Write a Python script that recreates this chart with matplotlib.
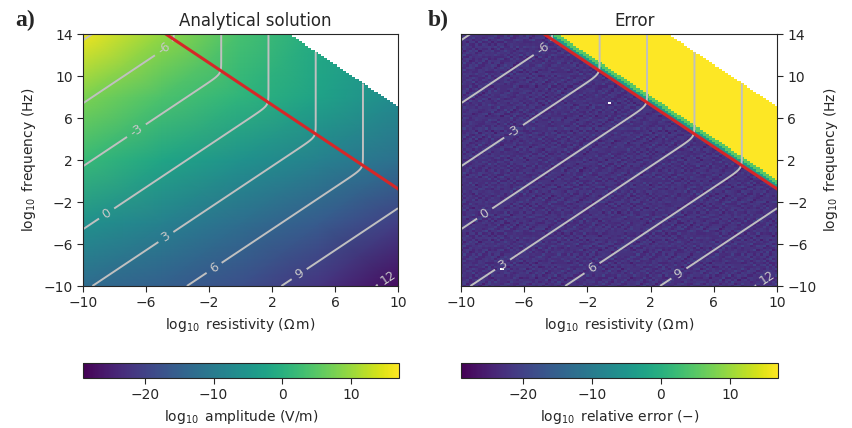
import numpy as np
import matplotlib.pyplot as plt
from matplotlib.colors import ListedColormap

plt.rcParams['text.color'] = '#262626'
plt.rcParams['axes.labelcolor'] = '#262626'
plt.rcParams['xtick.color'] = '#262626'
plt.rcParams['ytick.color'] = '#262626'
plt.rcParams['axes.edgecolor'] = '#262626'

# grid of the maps (log10 values)
res_log = np.linspace(-10, 10, 101)
freq_log = np.linspace(-10, 14, 121)

# coarse amplitude anchors (log10 V/m)
anchor_res = [-10, -5, 0, 5, 10]
anchor_freq = [-10, -4, 2, 8, 14]
anchor_amp = [[-13.0, -15.0, -18.0, -22.0, -27.5],
              [-6.0, -9.0, -12.5, -16.0, -20.5],
              [2.0, -2.0, -5.5, -9.0, -12.0],
              [8.0, 4.0, 1.0, -2.5, -7.0],
              [16.0, 9.5, 3.5, -1.0, -5.0]]

# medium + limits
eps_r = 10.0
cutoff = 17.1          # log f + log rho above which nothing was computed
vmin, vmax = -29, 17

# error levels (log10 relative error)
err_below = -22.5
err_band = [-4.0, 5.0]
band_edges = [0.4, 0.8]
err_above = 20.0
noise_a = [[1, -2, 0, 3, -1, 2, -3, 0, 1, -1, 2],
           [-1, 3, -2, 0, 2, -1, 1, -3, 0, 2, -2],
           [2, 0, 1, -2, -3, 1, 0, 2, -1, 3, 0],
           [-3, 1, 2, -1, 0, 3, -2, 1, 2, -1, 1],
           [0, -1, -3, 2, 1, -2, 3, -1, -2, 0, -3],
           [2, 3, 0, -1, -2, 0, 1, 2, 3, -2, 1],
           [-2, 0, 1, 1, 3, -3, -1, 0, -1, 1, 2]]
noise_b = [[0, 2, -1, 1, -2, 3, 0, -1, 2, -3, 1, 0, -2],
           [-2, 1, 3, -1, 0, -2, 2, 1, -3, 0, 2, -1, 1],
           [1, -3, 0, 2, 1, -1, -2, 3, 0, 1, -1, 2, -2],
           [3, 0, -2, -3, 2, 1, -1, 0, 1, -2, 3, -1, 0],
           [-1, 2, 1, 0, -3, -2, 3, -1, 2, 1, 0, -3, 2]]
noise_scale = 0.5
nan_cells = [(-0.6, 7.5), (-7.4, -8.4)]

# skin-depth contours
levels = [-9, -6, -3, 0, 3, 6, 9, 12]
lab_a = [(-4.9, 12.7), (-6.7, 5.0), (-8.5, -3.1), (-4.8, -5.2), (-1.75, -8.1), (3.65, -8.7), (9.4, -9.2)]
lab_b = [(-4.8, 12.6), (-6.7, 4.8), (-8.5, -3.1), (-7.4, -7.9), (-1.8, -8.1), (3.7, -8.6), (9.3, -9.1)]

eps0 = 8.854187817e-12
mu0 = 4e-7 * np.pi

R, F = np.meshgrid(res_log, freq_log)
outside = (R + F) > cutoff

# attenuation -> skin depth
Rf, Ff = np.meshgrid(np.linspace(-10, 10, 401), np.linspace(-10, 14, 401))
omega = 2 * np.pi * 10.0**Ff
ratio = (1 / 10.0**Rf) / (omega * eps0 * eps_r)
root = ratio**2 / (np.sqrt(1 + ratio**2) + 1)
alpha = omega * np.sqrt(mu0 * eps0 * eps_r / 2) * np.sqrt(root)
skin = np.ma.masked_where((Rf + Ff) > cutoff, -np.log10(alpha))

# sigma = omega*eps line
trans = np.log10(1 / (2 * np.pi * eps0 * eps_r * 10.0**res_log))

# error field
ny, nx = len(freq_log), len(res_log)
dist = F + R - np.log10(1 / (2 * np.pi * eps0 * eps_r))
na = np.tile(np.array(noise_a), (ny // 7 + 1, nx // 11 + 1))[:ny, :nx]
nb = np.tile(np.array(noise_b).T, (ny // 13 + 1, nx // 5 + 1))[:ny, :nx]
err = np.full(R.shape, err_above)
err[dist < band_edges[1]] = err_band[1]
err[dist < band_edges[0]] = err_band[0]
below = dist < 0
err[below] = err_below + noise_scale * (na + nb)[below]
for r0, f0 in nan_cells:
    i = np.argmin(abs(freq_log - f0))
    j = np.argmin(abs(res_log - r0))
    err[i, j] = np.nan
err = np.ma.masked_where(outside | np.isnan(err), err)

fig = plt.figure(figsize=(8.53, 4.28), dpi=100)
ax1 = fig.add_axes([83/853, 1 - 286/428, 315/853, 252/428])
ax2 = fig.add_axes([461/853, 1 - 286/428, 316/853, 252/428])
cax1 = fig.add_axes([83/853, 1 - 378/428, 316/853, 15/428])
cax2 = fig.add_axes([461/853, 1 - 378/428, 317/853, 15/428])

AR, AF = np.meshgrid(anchor_res, anchor_freq)
pm1 = ax1.pcolormesh(AR, AF, np.array(anchor_amp), shading='gouraud', cmap='viridis', vmin=vmin, vmax=vmax)
white = np.ma.masked_where(~outside, np.ones_like(R))
ax1.pcolormesh(R, F, white, shading='nearest', cmap=ListedColormap(['white']))

pm2 = ax2.pcolormesh(R, F, err, shading='nearest', cmap='viridis', vmin=vmin, vmax=vmax)

for ax, lab in [(ax1, lab_a), (ax2, lab_b)]:
    cs = ax.contour(Rf, Ff, skin, levels=levels, colors='#c0c0c0', linewidths=1.4, linestyles='solid')
    ax.clabel(cs, manual=lab, fmt='%d', inline=True, fontsize=9, colors='#c8c8c8')
    ax.plot(res_log, trans, color='#d62728', lw=2.2)
    ax.set_xlim(-10, 10)
    ax.set_ylim(-10, 14)
    ax.set_xticks([-10, -6, -2, 2, 6, 10])
    ax.set_yticks([-10, -6, -2, 2, 6, 10, 14])
    ax.tick_params(labelsize=10, length=4, direction='out')
    ax.set_xlabel(r'$\log_{10}$ resistivity ($\Omega\,$m)', fontsize=10)
    ax.set_ylabel(r'$\log_{10}$ frequency (Hz)', fontsize=10)

ax2.yaxis.tick_right()
ax2.yaxis.set_label_position('right')

ax1.set_title('Analytical solution', fontsize=12, x=0.548)
ax2.set_title('Error', fontsize=12, x=0.548)
fig.text(15/853, 1 - 20/428, 'a)', fontsize=17, fontweight='bold', family='Liberation Serif', va='center')
fig.text(428/853, 1 - 20/428, 'b)', fontsize=17, fontweight='bold', family='Liberation Serif', va='center')

cb1 = fig.colorbar(pm1, cax=cax1, orientation='horizontal', ticks=[-20, -10, 0, 10])
cb2 = fig.colorbar(pm2, cax=cax2, orientation='horizontal', ticks=[-20, -10, 0, 10])
cb1.set_label(r'$\log_{10}$ amplitude (V/m)', fontsize=10)
cb2.set_label(r'$\log_{10}$ relative error ($-$)', fontsize=10)
for cb in (cb1, cb2):
    cb.ax.tick_params(labelsize=10, length=4)

fig.savefig('out.png', dpi=100)
